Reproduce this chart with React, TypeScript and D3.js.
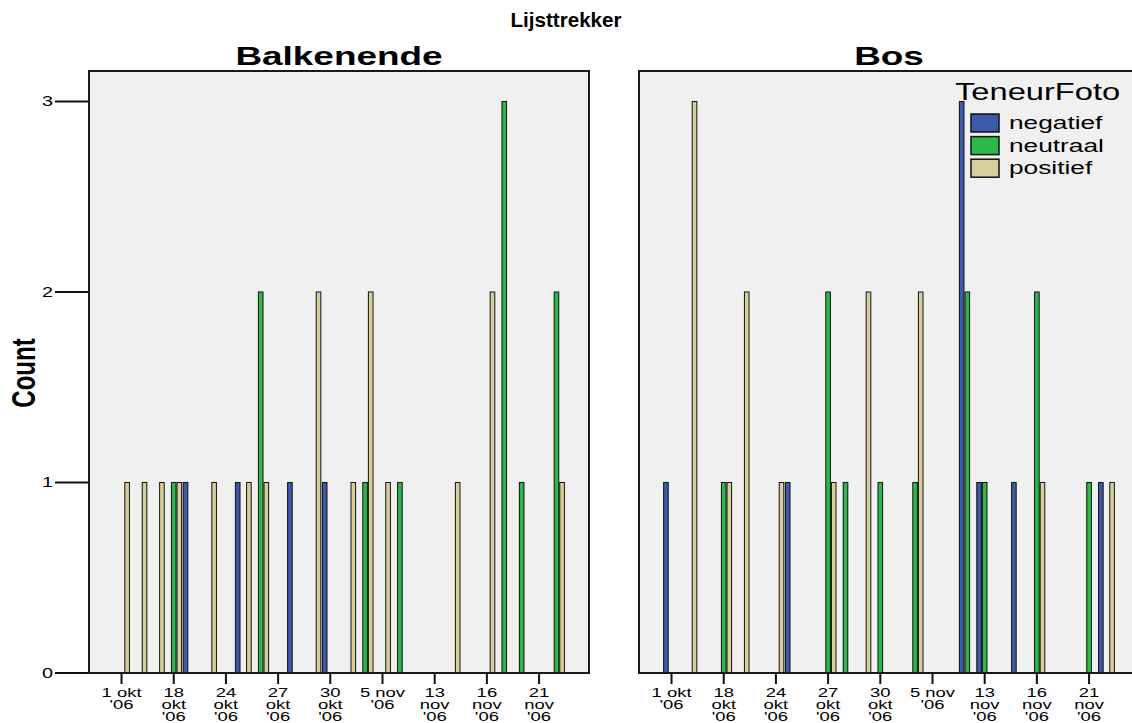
import React from 'react';
import * as d3 from 'd3';

// categories (dates) on the x axis; only every third one gets a label
const dates = [
  "1 okt '06", "9 okt '06", "12 okt '06", "18 okt '06", "20 okt '06", "23 okt '06",
  "24 okt '06", "25 okt '06", "26 okt '06", "27 okt '06", "28 okt '06", "29 okt '06",
  "30 okt '06", "1 nov '06", "3 nov '06", "5 nov '06", "8 nov '06", "10 nov '06",
  "13 nov '06", "14 nov '06", "15 nov '06", "16 nov '06", "18 nov '06", "20 nov '06",
  "21 nov '06", "22 nov '06",
];
const tickDates = [
  "1 okt '06", "18 okt '06", "24 okt '06", "27 okt '06", "30 okt '06",
  "5 nov '06", "13 nov '06", "16 nov '06", "21 nov '06",
];
const yTicks = [0, 1, 2, 3];

const lijsttrekkers = ['Balkenende', 'Bos'];
const series = ['negatief', 'neutraal', 'positief'];
const colors = ['#3d5aa8', '#2db84c', '#d5d09a'];

// counts per date, one array per TeneurFoto value
const balkenendeNeg = [0,0,0,0,1,0,0,1,0,0,1,0,1,0,0,0,0,0,0,0,0,0,0,0,0,0];
const balkenendeNeu = [0,0,0,1,0,0,0,0,2,0,0,0,0,0,1,0,1,0,0,0,0,0,3,1,0,2];
const balkenendePos = [1,1,1,1,0,1,0,1,1,0,0,2,0,1,2,1,0,0,0,1,0,2,0,0,0,1];
const bosNeg = [1,0,0,0,0,0,0,1,0,0,0,0,0,0,0,0,0,3,1,0,1,0,0,0,0,1];
const bosNeu = [0,0,0,1,0,0,0,0,0,2,1,0,1,0,1,0,0,2,1,0,0,2,0,0,1,0];
const bosPos = [0,3,0,1,2,0,1,0,0,1,0,2,0,0,2,0,0,0,0,0,0,1,0,0,0,1];

const panelData = [
  [balkenendeNeg, balkenendeNeu, balkenendePos],
  [bosNeg, bosNeu, bosPos],
];

const W = 1132;
const H = 723;
const S = 1.42; // the original text is stretched horizontally
const FONT = "'Liberation Sans', Arial, sans-serif";

const top = 71;
const bottom = 673;

// wrap a tick label into lines of at most 5 characters
const wrap = (label: string) => {
  const lines: string[] = [];
  label.split(' ').forEach((w) => {
    const last = lines[lines.length - 1];
    if (last !== undefined && (last + ' ' + w).length <= 5) lines[lines.length - 1] = last + ' ' + w;
    else lines.push(w);
  });
  return lines;
};

const T = ({ x, y, size, bold, anchor, rotate, sx = S, children }: any) => (
  <text
    transform={`translate(${x},${y}) scale(${sx},1)${rotate ? ` rotate(${rotate})` : ''}`}
    fontFamily={FONT}
    fontSize={size}
    fontWeight={bold ? 'bold' : 'normal'}
    textAnchor={anchor || 'start'}
    fill="#000"
  >
    {children}
  </text>
);

export default function App() {
  const panel = d3.scaleBand<string>().domain(lijsttrekkers).range([89, 1139]).paddingInner(0.0909);
  const pw = panel.bandwidth();
  const x = d3.scaleBand<string>().domain(dates).range([0, pw]).paddingOuter(1.37);
  const step = x.step();
  const sub = d3
    .scaleBand<string>()
    .domain(series)
    .range([step / 2 - 8.4, step / 2 + 8.4]);
  const y = d3.scaleLinear().domain([0, 3.16]).range([bottom, top]);

  return (
    <div style={{ position: 'absolute', left: 0, top: 0 }}>
      <svg width={W} height={H} style={{ display: 'block', background: '#fff' }}>
        <T x={566} y={27} size={20} bold anchor="middle" sx={1.03}>Lijsttrekker</T>

        {lijsttrekkers.map((name, pi) => {
          const px = panel(name)!;
          return (
            <g key={name} transform={`translate(${px},0)`}>
              <T x={pw / 2} y={65} size={26} bold anchor="middle">{name}</T>
              <rect x={0} y={top} width={pw} height={bottom - top} fill="#f0f0f0" />
              {series.map((s, si) =>
                panelData[pi][si].map((v, di) =>
                  v > 0 ? (
                    <rect
                      key={s + di}
                      x={x(dates[di])! + sub(s)! + 0.5}
                      y={y(v)}
                      width={sub.bandwidth() - 1}
                      height={y(0) - y(v)}
                      fill={colors[si]}
                      stroke="#111"
                      strokeWidth={1}
                    />
                  ) : null
                )
              )}
              <rect x={0} y={top} width={pw} height={bottom - top} fill="none" stroke="#1a1a1a" strokeWidth={2} />
              {tickDates.map((d) => {
                const cx = x(d)! + step / 2;
                return (
                  <g key={d}>
                    <line x1={cx} x2={cx} y1={bottom} y2={684} stroke="#111" strokeWidth={2} />
                    <T x={cx} y={697} size={13} anchor="middle">
                      {wrap(d).map((ln, li) => (
                        <tspan key={li} x={0} dy={li === 0 ? 0 : 12.1}>{ln}</tspan>
                      ))}
                    </T>
                  </g>
                );
              })}
              {pi === 0 &&
                yTicks.map((t) => (
                  <g key={t}>
                    <line x1={-34} x2={0} y1={y(t)} y2={y(t)} stroke="#111" strokeWidth={2} />
                    <T x={-36} y={y(t) + 5} size={14} anchor="end">{t}</T>
                  </g>
                ))}
            </g>
          );
        })}

        <T x={35} y={373} size={24} bold anchor="middle" rotate={-90}>Count</T>

        <g>
          <T x={955} y={100} size={23}>TeneurFoto</T>
          {series.map((s, i) => (
            <g key={s} transform={`translate(971,${114 + i * 22.6})`}>
              <rect x={0} y={0} width={28} height={18} fill={colors[i]} stroke="#111" strokeWidth={1.5} />
              <T x={38} y={15} size={18.5}>{s}</T>
            </g>
          ))}
        </g>
      </svg>
    </div>
  );
}
